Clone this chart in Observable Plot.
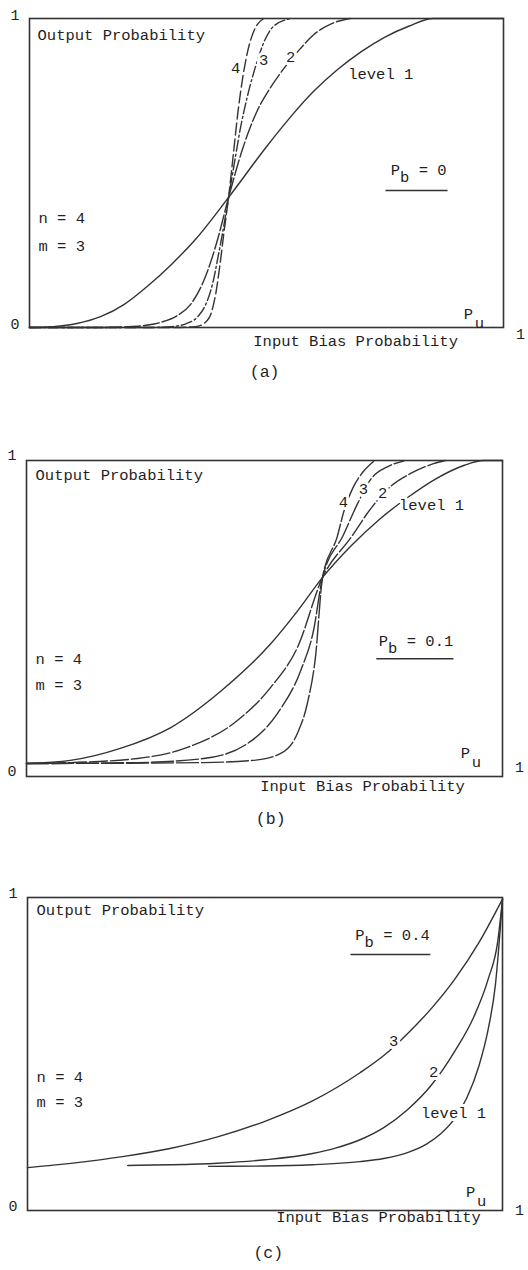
<!DOCTYPE html>
<html>
<head>
<meta charset="utf-8">
<script src="https://cdn.jsdelivr.net/npm/d3@7"></script>
<script src="https://cdn.jsdelivr.net/npm/@observablehq/plot@0.6"></script>
<style>
  html, body { margin: 0; padding: 0; background: #ffffff; }
  #wrap { position: relative; width: 528px; height: 1270px; overflow: hidden; }
  #wrap svg { position: absolute; left: 0; }
</style>
</head>
<body>
<div id="wrap"></div>
<script>
// ---------- Data (x = input bias prob Pu, y = output prob) ----------
const levels = ["level 1", "2", "3", "4"];

// (a) Pb = 0
const aLevel1 = [[0,0],[0.05,0.003],[0.10,0.013],[0.15,0.035],[0.20,0.075],[0.25,0.135],[0.30,0.205],[0.35,0.285],[0.42,0.421],[0.50,0.585],[0.55,0.68],[0.60,0.765],[0.65,0.835],[0.70,0.893],[0.75,0.94],[0.80,0.975],[0.852,1.0],[1,1]];
const aLevel2 = [[0,0],[0.15,0],[0.20,0.002],[0.25,0.008],[0.28,0.018],[0.31,0.037],[0.34,0.075],[0.37,0.16],[0.395,0.275],[0.42,0.421],[0.45,0.58],[0.48,0.70],[0.51,0.78],[0.54,0.845],[0.57,0.90],[0.60,0.948],[0.64,0.985],[0.677,1.0]];
const aLevel3 = [[0,0],[0.25,0],[0.30,0.003],[0.33,0.012],[0.355,0.035],[0.372,0.075],[0.386,0.14],[0.398,0.23],[0.41,0.33],[0.42,0.421],[0.432,0.53],[0.445,0.645],[0.46,0.75],[0.477,0.845],[0.495,0.925],[0.515,0.975],[0.551,1.0]];
const aLevel4 = [[0,0],[0.30,0],[0.35,0.003],[0.37,0.015],[0.383,0.045],[0.393,0.11],[0.402,0.205],[0.41,0.305],[0.42,0.421],[0.43,0.56],[0.44,0.70],[0.45,0.81],[0.462,0.905],[0.475,0.965],[0.494,1.0]];

// (b) Pb = 0.1
const bLevel1 = [[0,0.041],[0.092,0.051],[0.197,0.089],[0.303,0.155],[0.408,0.27],[0.513,0.42],[0.57,0.525],[0.622,0.63],[0.68,0.727],[0.74,0.812],[0.80,0.882],[0.86,0.942],[0.92,0.985],[0.96,1.0],[1,1]];
const bLevel2 = [[0,0.041],[0.092,0.044],[0.233,0.057],[0.338,0.092],[0.443,0.177],[0.513,0.282],[0.569,0.408],[0.622,0.63],[0.681,0.755],[0.727,0.855],[0.765,0.918],[0.807,0.959],[0.855,0.99],[0.88,1.0]];
const bLevel3 = [[0,0.041],[0.233,0.044],[0.372,0.057],[0.464,0.104],[0.527,0.199],[0.576,0.335],[0.603,0.462],[0.622,0.63],[0.666,0.765],[0.695,0.862],[0.723,0.940],[0.758,0.980],[0.792,0.998]];
const bLevel4 = [[0,0.041],[0.372,0.044],[0.477,0.051],[0.534,0.073],[0.569,0.136],[0.590,0.231],[0.607,0.377],[0.622,0.63],[0.653,0.76],[0.666,0.835],[0.685,0.911],[0.706,0.962],[0.729,0.997]];

// (c) Pb = 0.4
const cLevel1 = [[0.381,0.141],[0.5,0.142],[0.6,0.146],[0.7,0.156],[0.75,0.166],[0.8,0.185],[0.84,0.212],[0.87,0.245],[0.9,0.295],[0.925,0.36],[0.95,0.46],[0.97,0.58],[0.985,0.72],[1,0.995]];
const cLevel2 = [[0.211,0.144],[0.3,0.146],[0.4,0.151],[0.5,0.162],[0.6,0.182],[0.65,0.2],[0.7,0.226],[0.75,0.265],[0.8,0.322],[0.85,0.40],[0.9,0.51],[0.94,0.62],[0.97,0.74],[0.99,0.86],[1,0.995]];
const cLevel3 = [[0,0.137],[0.1,0.152],[0.2,0.172],[0.3,0.198],[0.4,0.235],[0.5,0.285],[0.6,0.35],[0.7,0.44],[0.75,0.495],[0.8,0.565],[0.85,0.645],[0.9,0.74],[0.95,0.855],[1,0.995]];

const axisTicksY = [0, 1];
const axisTicksX = [1];

// ---------- Drawing ----------
const FONT = '"Liberation Mono", "DejaVu Sans Mono", monospace';
const INK = "#1f1f1f";
const LINE = "#333333";
const wrap = document.getElementById("wrap");

function halo(opts) {
  return Object.assign({stroke: "white", strokeWidth: 6, paintOrder: "stroke", fill: INK}, opts);
}

function drawPanel(p) {
  const marks = [
    Plot.frame({stroke: "#333", strokeWidth: 1.6}),
    Plot.axisY({ticks: axisTicksY, tickSize: 0, tickPadding: 10, tickFormat: d => String(d), label: null, dy: p.yDy, fontSize: 15}),
    Plot.axisX({ticks: axisTicksX, tickSize: 0, tickPadding: p.xPad, tickFormat: d => String(d), label: null, dx: 17, fontSize: 15}),
  ];
  p.curves.forEach((pts, i) => {
    marks.push(Plot.line(pts, {x: d => d[0], y: d => d[1], curve: "monotone-x", stroke: LINE, strokeWidth: 1.4, strokeDasharray: p.dashes[i]}));
  });
  // underline for Pb
  marks.push(Plot.link([p.under], {x1: d => d.x1, x2: d => d.x2, y1: d => d.y, y2: d => d.y, stroke: LINE, strokeWidth: 1.5}));
  // Text annotations
  marks.push(Plot.text(p.startLabels, halo({x: "x", y: "y", text: "text", textAnchor: "start"})));
  marks.push(Plot.text(p.midLabels, halo({x: "x", y: "y", text: "text", textAnchor: "middle"})));
  marks.push(Plot.text([p.pb], {x: "x", y: "y", text: () => "P", textAnchor: "start", fill: INK}));
  marks.push(Plot.text([p.pb], {x: "x", y: "y", text: () => "b", textAnchor: "start", dx: 9.3, dy: 7, fill: INK}));
  marks.push(Plot.text([p.pb], {x: "x", y: "y", text: d => d.text, textAnchor: "start", dx: 28, fill: INK}));
  marks.push(Plot.text([p.pu], {x: "x", y: "y", text: () => "P", textAnchor: "middle", fill: INK}));
  marks.push(Plot.text([p.pu], {x: "x", y: "y", text: () => "u", textAnchor: "middle", dx: 11, dy: 9, fill: INK}));
  marks.push(Plot.text([p.xTitle], {x: "x", text: "text", frameAnchor: "bottom", dy: p.xTitleDy, fill: INK}));
  marks.push(Plot.text([p.caption], {x: "x", text: "text", frameAnchor: "bottom", dy: p.captionDy, fill: INK, fontSize: 16.5}));

  const svg = Plot.plot({
    width: 528,
    height: p.height,
    marginLeft: p.ml, marginRight: p.mr, marginTop: p.mt, marginBottom: p.mb,
    x: {domain: [0, 1]},
    y: {domain: [0, 1]},
    style: {fontFamily: FONT, fontSize: "15.5px", color: INK, background: "transparent", overflow: "visible"},
    marks
  });
  svg.style.top = p.top + "px";
  wrap.append(svg);
}

drawPanel({
  top: 0, height: 400, ml: 29, mr: 25, mt: 18, mb: 73,
  curves: [aLevel1, aLevel2, aLevel3, aLevel4],
  dashes: [null, "16,3", "11,3,2,3", "12,4"],
  yDy: -3, xPad: 1,
  under: {x1: 0.751, x2: 0.882, y: 0.443},
  pb: {x: 0.762, y: 0.508, text: "= 0"},
  pu: {x: 0.926, y: 0.045},
  startLabels: [
    {x: 0.017, y: 0.945, text: "Output Probability"},
    {x: 0.019, y: 0.353, text: "n = 4"},
    {x: 0.019, y: 0.265, text: "m = 3"}
  ],
  midLabels: [
    {x: 0.741, y: 0.819, text: levels[0]},
    {x: 0.551, y: 0.874, text: levels[1]},
    {x: 0.494, y: 0.867, text: levels[2]},
    {x: 0.435, y: 0.841, text: levels[3]}
  ],
  xTitle: {x: 0.688, text: "Input Bias Probability"}, xTitleDy: 18,
  caption: {x: 0.496, text: "(a)"}, captionDy: 49
});

drawPanel({
  top: 420, height: 420, ml: 26, mr: 26, mt: 40, mb: 64,
  curves: [bLevel1, bLevel2, bLevel3, bLevel4],
  dashes: [null, "18,3", "22,3", "22,3"],
  yDy: -5, xPad: -15,
  under: {x1: 0.735, x2: 0.897, y: 0.373},
  pb: {x: 0.74, y: 0.43, text: "= 0.1"},
  pu: {x: 0.922, y: 0.073},
  startLabels: [
    {x: 0.019, y: 0.955, text: "Output Probability"},
    {x: 0.019, y: 0.373, text: "n = 4"},
    {x: 0.019, y: 0.288, text: "m = 3"}
  ],
  midLabels: [
    {x: 0.851, y: 0.858, text: levels[0]},
    {x: 0.748, y: 0.896, text: levels[1]},
    {x: 0.708, y: 0.911, text: levels[2]},
    {x: 0.666, y: 0.867, text: levels[3]}
  ],
  xTitle: {x: 0.706, text: "Input Bias Probability"}, xTitleDy: 14,
  caption: {x: 0.513, text: "(b)"}, captionDy: 47
});

drawPanel({
  top: 850, height: 420, ml: 27, mr: 26, mt: 47, mb: 60,
  curves: [cLevel1, cLevel2, cLevel3],
  dashes: [null, null, null],
  yDy: -4, xPad: -6,
  under: {x1: 0.68, x2: 0.848, y: 0.818},
  pb: {x: 0.69, y: 0.879, text: "= 0.4"},
  pu: {x: 0.933, y: 0.058},
  startLabels: [
    {x: 0.019, y: 0.96, text: "Output Probability"},
    {x: 0.019, y: 0.428, text: "n = 4"},
    {x: 0.019, y: 0.348, text: "m = 3"}
  ],
  midLabels: [
    {x: 0.897, y: 0.310, text: levels[0]},
    {x: 0.855, y: 0.441, text: levels[1]},
    {x: 0.771, y: 0.543, text: levels[2]}
  ],
  xTitle: {x: 0.739, text: "Input Bias Probability"}, xTitleDy: 11,
  caption: {x: 0.507, text: "(c)"}, captionDy: 47
});
</script>
</body>
</html>
